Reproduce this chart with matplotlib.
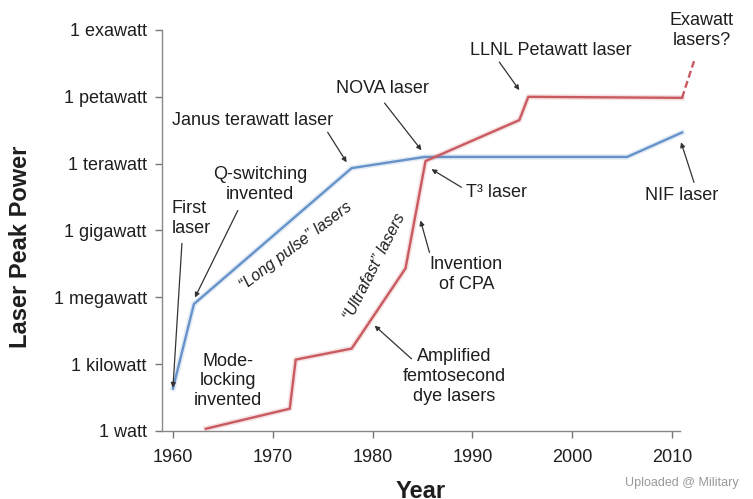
import matplotlib
matplotlib.use('Agg')
import matplotlib.pyplot as plt

plt.rcParams['font.family'] = ['Liberation Sans', 'DejaVu Sans']

# long pulse lasers (blue)
long_years = [1960, 1962.1, 1977.9, 1985.2, 2005.5, 2011]
long_power = [8e1, 5e5, 6.3e11, 2e12, 2e12, 2.5e13]

# ultrafast lasers (red)
fast_years = [1963.3, 1971.7, 1972.3, 1977.9, 1983.3, 1985.3, 1994.7, 1995.6, 2011]
fast_power = [1.26, 1e1, 1.6e3, 5e3, 2e7, 1.3e12, 9e13, 1e15, 9e14]

# speculative exawatt extension
future_years = [2011, 2012.2]
future_power = [9e14, 4e16]

tick_power = [1, 1e3, 1e6, 1e9, 1e12, 1e15, 1e18]
tick_names = ['1 watt', '1 kilowatt', '1 megawatt', '1 gigawatt',
              '1 terawatt', '1 petawatt', '1 exawatt']
year_ticks = [1960, 1970, 1980, 1990, 2000, 2010]

blue = '#6593c9'
red = '#c95a60'
txt = '#1e1e1e'

fig = plt.figure(figsize=(7.53, 4.99), dpi=100)
ax = fig.add_axes([0.2151, 0.1363, 0.688, 0.8036])

for c, xs, ys in [(blue, long_years, long_power), (red, fast_years, fast_power)]:
    ax.plot(xs, ys, color=c, lw=4, alpha=0.18, clip_on=False, solid_joinstyle='round')
    ax.plot(xs, ys, color=c, lw=1.7, clip_on=False)
ax.plot(future_years, future_power, color=red, lw=1.7, ls=(0, (3, 1.5)), clip_on=False)

ax.set_yscale('log')
ax.set_xlim(1958.9, 2010.8)
ax.set_ylim(1, 1e18)
ax.set_yticks(tick_power)
ax.set_yticklabels(tick_names)
ax.minorticks_off()
ax.set_xticks(year_ticks)
ax.tick_params(axis='both', direction='out', length=5, width=1, color='#777777',
               labelsize=13, labelcolor=txt)
ax.tick_params(axis='y', pad=6)
ax.tick_params(axis='x', pad=8)
for s in ['top', 'right']:
    ax.spines[s].set_visible(False)
for s in ['left', 'bottom']:
    ax.spines[s].set_color('#888888')
    ax.spines[s].set_linewidth(1)

ax.set_xlabel('Year', fontsize=17, fontweight='bold', color=txt)
ax.xaxis.set_label_coords(0.5, -0.122)
ax.set_ylabel('Laser Peak Power', fontsize=17, fontweight='bold', color=txt)
ax.yaxis.set_label_coords(-0.25, 0.459)

def e(x):
    return 10 ** x

arrow = dict(arrowstyle='-|>', color='#333333', lw=0.9, mutation_scale=7,
             shrinkA=0, shrinkB=0)

notes = [
    ('First\nlaser', 1959.9, 9.52, 'left'),
    ('Q-switching\ninvented', 1968.7, 11.07, 'center'),
    ('Janus terawatt laser', 1968.0, 13.95, 'center'),
    ('NOVA laser', 1981.0, 15.39, 'center'),
    ('LLNL Petawatt laser', 1997.9, 17.1, 'center'),
    ('Exawatt\nlasers?', 2013.0, 17.96, 'center'),
    ('T³ laser', 1989.4, 10.71, 'left'),
    ('NIF laser', 2011.0, 10.58, 'center'),
    ('Invention\nof CPA', 1989.4, 7.04, 'center'),
    ('Amplified\nfemtosecond\ndye lasers', 1988.2, 2.43, 'center'),
    ('Mode-\nlocking\ninvented', 1965.5, 2.25, 'center'),
]
for s, x, y, ha in notes:
    ax.text(x, e(y), s, ha=ha, va='center', fontsize=13, color=txt,
            linespacing=1.22, clip_on=False)

arrows = [
    ((1960.9, 8.42), (1960.0, 1.94)),
    ((1966.5, 9.9), (1962.2, 5.99)),
    ((1975.5, 13.41), (1977.4, 12.06)),
    ((1981.2, 14.72), (1984.9, 12.6)),
    ((1992.7, 16.56), (1994.7, 15.3)),
    ((1988.9, 10.94), (1985.9, 11.75)),
    ((2012.2, 11.16), (2010.9, 12.96)),
    ((1985.7, 8.01), (1984.8, 9.45)),
    ((1983.9, 3.24), (1980.2, 4.73)),
]
for (tx, ty), (hx, hy) in arrows:
    ax.annotate('', xy=(hx, e(hy)), xytext=(tx, e(ty)), arrowprops=arrow,
                annotation_clip=False)

ax.text(1972.3, e(8.28), '“Long pulse” lasers', rotation=37, style='italic',
        fontsize=11.5, color=txt, ha='center', va='center', rotation_mode='anchor')
ax.text(1980.2, e(7.38), '“Ultrafast” lasers', rotation=63, style='italic',
        fontsize=11.5, color=txt, ha='center', va='center', rotation_mode='anchor')

fig.text(0.905, 0.032, 'Uploaded @ Military', fontsize=9, color='#999999',
         ha='center', va='center')

fig.savefig('out.png', dpi=100)
